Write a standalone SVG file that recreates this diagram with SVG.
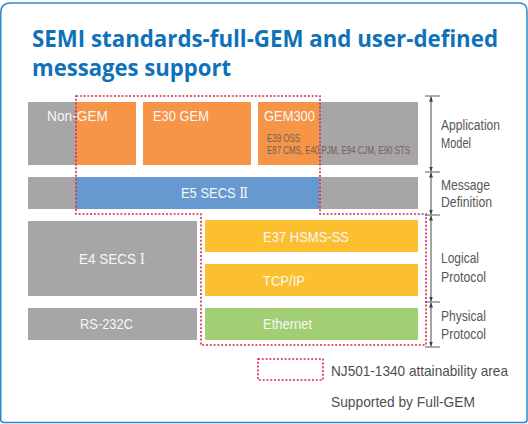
<svg xmlns="http://www.w3.org/2000/svg" width="528" height="424" viewBox="0 0 528 424">
<style>
.bg{fill:#fff}
.frame{fill:none;stroke:#2d89c9;stroke-width:1.5}
.title{font-family:"Open Sans","Liberation Sans",sans-serif;font-weight:bold;font-size:22.5px;fill:#0f71b8}
.gray{fill:#a7a5a6}
.orange{fill:#f69447}
.blue{fill:#6699cf}
.yellow{fill:#fcbf2f}
.green{fill:#a3cf74}
.lbl{font-family:"Liberation Sans",sans-serif;font-size:15.5px;fill:#f7f7f7}
.lbln{font-family:"Liberation Sans","DejaVu Serif","Noto Sans CJK JP",sans-serif;font-size:15.5px;fill:#f7f7f7}
.small{font-family:"Liberation Sans",sans-serif;font-size:10.5px;fill:#6b625a}
.side{font-family:"Liberation Sans",sans-serif;font-size:14px;fill:#575757}
.leg{font-family:"Liberation Sans",sans-serif;font-size:14.5px;fill:#4f4f4f}
.area{fill:none;stroke:#d8284a;stroke-width:1.6;stroke-dasharray:2 1.8}
.tick{stroke:#5a5a5a;stroke-width:1}
.axis{stroke:#4a4a4a;stroke-width:1;marker-start:url(#ah);marker-end:url(#ah)}
</style>
<defs>
<marker id="ah" viewBox="0 0 5 4" refX="5" refY="2" markerWidth="5" markerHeight="4" markerUnits="userSpaceOnUse" orient="auto-start-reverse">
<path d="M0,0 L5,2 L0,4 z" fill="#3f3f3f"/>
</marker>
</defs>
<rect class="bg" x="0" y="0" width="528" height="424"/>
<path class="frame" d="M0.75,13 Q0.75,3 10.75,3 L519,3 Q527,3 527,11 L527,420 Q527,422.5 524,422.5 L3.75,422.5 Q0.75,422.5 0.75,419.5 Z"/>
<g id="title">
<text class="title" x="32" y="47" textLength="466" lengthAdjust="spacingAndGlyphs">SEMI standards-full-GEM and user-defined</text>
<text class="title" x="32" y="76" textLength="199" lengthAdjust="spacingAndGlyphs">messages support</text>
</g>
<g id="non-gem">
<rect class="gray" x="28" y="102" width="48" height="63"/>
<rect class="orange" x="76" y="102" width="60" height="63"/>
<text class="lbl" x="47" y="121" textLength="61" lengthAdjust="spacingAndGlyphs">Non-GEM</text>
</g>
<g id="e30-gem">
<rect class="orange" x="143" y="102" width="108" height="63"/>
<text class="lbl" x="153" y="121" textLength="56" lengthAdjust="spacingAndGlyphs">E30 GEM</text>
</g>
<g id="gem300">
<rect class="orange" x="258" y="102" width="61" height="63"/>
<rect class="gray" x="319" y="102" width="99" height="63"/>
<text class="lbl" x="264" y="121" textLength="51" lengthAdjust="spacingAndGlyphs">GEM300</text>
<text class="small" x="267" y="141.5" textLength="33" lengthAdjust="spacingAndGlyphs">E39 OSS</text>
<text class="small" x="267" y="154" textLength="143" lengthAdjust="spacingAndGlyphs">E87 CMS, E40 PJM, E94 CJM, E90 STS</text>
</g>
<g id="e5-secs2">
<rect class="gray" x="28" y="177" width="390" height="32"/>
<rect class="blue" x="76" y="177" width="243" height="32"/>
<text class="lbln" x="181" y="198" textLength="67" lengthAdjust="spacingAndGlyphs">E5 SECS Ⅱ</text>
</g>
<g id="e4-secs1">
<rect class="gray" x="28" y="221" width="169" height="75"/>
<text class="lbln" x="79" y="264" textLength="66" lengthAdjust="spacingAndGlyphs">E4 SECS Ⅰ</text>
</g>
<g id="rs232c">
<rect class="gray" x="28" y="308" width="169" height="32"/>
<text class="lbl" x="80" y="329" textLength="53" lengthAdjust="spacingAndGlyphs">RS-232C</text>
</g>
<g id="e37-hsms">
<rect class="yellow" x="205" y="220" width="213" height="32"/>
<text class="lbl" x="263" y="242" textLength="86" lengthAdjust="spacingAndGlyphs">E37 HSMS-SS</text>
</g>
<g id="tcpip">
<rect class="yellow" x="205" y="264" width="213" height="32"/>
<text class="lbl" x="263" y="286" textLength="42" lengthAdjust="spacingAndGlyphs">TCP/IP</text>
</g>
<g id="ethernet">
<rect class="green" x="205" y="308" width="213" height="32"/>
<text class="lbl" x="263" y="329" textLength="49" lengthAdjust="spacingAndGlyphs">Ethernet</text>
</g>
<g id="attainability-area">
<path class="area" d="M76,96 L320,96 L320,214 L426,214 L426,345 L201,345 L201,214 L76,214 Z"/>
</g>
<g id="connectors">
<line class="tick" x1="425" y1="96" x2="440" y2="96"/>
<line class="tick" x1="425" y1="172" x2="440" y2="172"/>
<line class="tick" x1="425" y1="215" x2="440" y2="215"/>
<line class="tick" x1="425" y1="302" x2="440" y2="302"/>
<line class="tick" x1="425" y1="347" x2="440" y2="347"/>
<line class="axis" x1="431" y1="96.5" x2="431" y2="171.5"/>
<line class="axis" x1="431" y1="172.5" x2="431" y2="214.5"/>
<line class="axis" x1="431" y1="215.5" x2="431" y2="301.5"/>
<line class="axis" x1="431" y1="302.5" x2="431" y2="346.5"/>
</g>
<g id="layer-labels">
<text class="side" x="441" y="129.5" textLength="59" lengthAdjust="spacingAndGlyphs">Application</text>
<text class="side" x="441" y="148" textLength="30" lengthAdjust="spacingAndGlyphs">Model</text>
<text class="side" x="441" y="190" textLength="49" lengthAdjust="spacingAndGlyphs">Message</text>
<text class="side" x="441" y="207" textLength="51" lengthAdjust="spacingAndGlyphs">Definition</text>
<text class="side" x="441" y="263" textLength="38" lengthAdjust="spacingAndGlyphs">Logical</text>
<text class="side" x="441" y="281.5" textLength="45" lengthAdjust="spacingAndGlyphs">Protocol</text>
<text class="side" x="441" y="321" textLength="45" lengthAdjust="spacingAndGlyphs">Physical</text>
<text class="side" x="441" y="338.5" textLength="45" lengthAdjust="spacingAndGlyphs">Protocol</text>
</g>
<g id="legend">
<rect class="area" x="258" y="359" width="65" height="21"/>
<text class="leg" x="331" y="376" textLength="177" lengthAdjust="spacingAndGlyphs">NJ501-1340 attainability area</text>
<text class="leg" x="331" y="406.5" textLength="144" lengthAdjust="spacingAndGlyphs">Supported by Full-GEM</text>
</g>
</svg>
